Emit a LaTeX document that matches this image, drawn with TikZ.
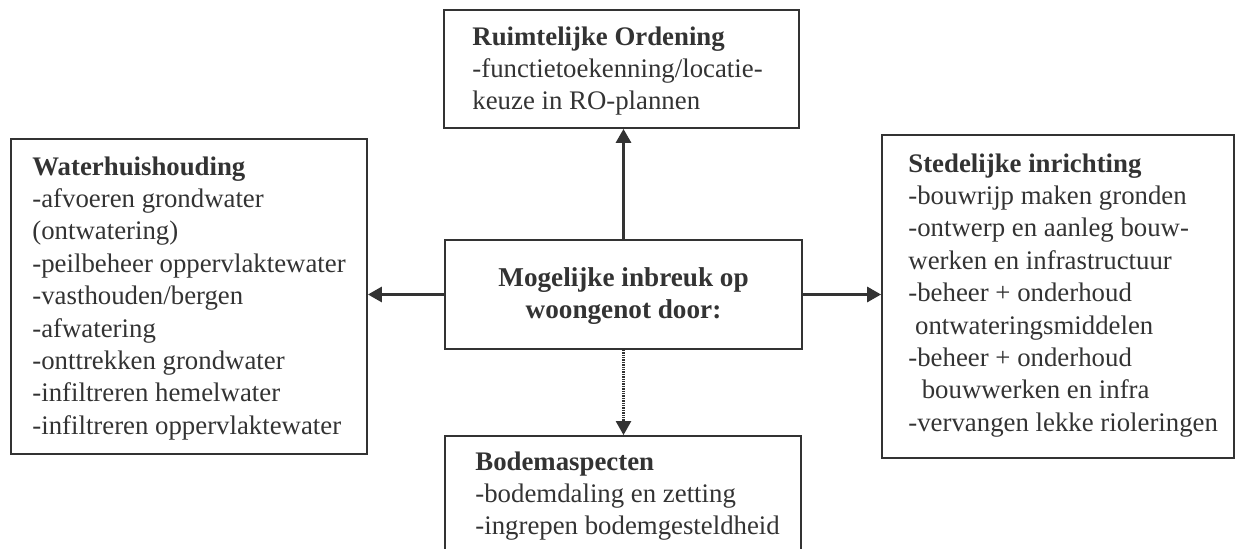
\documentclass[tikz,border=0pt]{standalone}
\usepackage{fontspec}
\setmainfont{Liberation Serif}
\usetikzlibrary{arrows.meta,fit}
\definecolor{ink}{HTML}{333333}
\begin{document}
\begin{tikzpicture}[x=0.5pt,y=-0.5pt,
  box/.style={draw=ink, line width=0.9pt, inner sep=0pt, fill=none},
  txt/.style={anchor=north west, inner sep=0pt, align=left, text=ink,
    font=\fontsize{13.4pt}{16.2pt}\selectfont},
  ctxt/.style={inner sep=0pt, align=center, text=ink,
    font=\fontsize{13.6pt}{16.4pt}\selectfont\bfseries},
  conn/.style={draw=ink, line width=1.5pt, -{Triangle[length=7pt,width=7.5pt]}},
  dconn/.style={draw=ink, line width=1.2pt, dash pattern=on 0.7pt off 0.5pt, -{Triangle[length=7pt,width=7.5pt]}}
]
\useasboundingbox (0,0) rectangle (1235,549);
\clip (0,0) rectangle (1235,549);
% boxes
\node[box, fit={(444,10) (799,128)}] (ro) {};
\node[box, fit={(11,139) (367,454)}] (wh) {};
\node[box, fit={(882,135) (1234,458)}] (si) {};
\node[box, fit={(445,240) (802,349)}] (ce) {};
\node[box, fit={(445,436) (801,570)}] (ba) {};
% texts
\node[txt] (roT) at (472,22) {\strut\textbf{Ruimtelijke Ordening}\\-functietoekenning/locatie-\\keuze in RO-plannen};
\node[txt] (whT) at (32,152) {\strut\textbf{Waterhuishouding}\\-afvoeren grondwater\\(ontwatering)\\-peilbeheer oppervlaktewater\\-vasthouden/bergen\\-afwatering\\-onttrekken grondwater\\-infiltreren hemelwater\\-infiltreren oppervlaktewater};
\node[txt] (siT) at (908,149) {\strut\textbf{Stedelijke inrichting}\\-bouwrijp maken gronden\\-ontwerp en aanleg bouw-\\werken en infrastructuur\\-beheer + onderhoud\\\ ontwateringsmiddelen\\-beheer + onderhoud\\\ \ bouwwerken en infra\\-vervangen lekke rioleringen};
\node[txt] (baT) at (475,447) {\strut\textbf{Bodemaspecten}\\-bodemdaling en zetting\\-ingrepen bodemgesteldheid};
\node[ctxt] (ceT) at (623.5,296) {Mogelijke inbreuk op\\woongenot door:};
% connectors
\draw[conn] (ce.north) -- (ce.north |- ro.south);
\draw[conn] (ce.west) -- (ce.west -| wh.east);
\draw[conn] (ce.east) -- (ce.east -| si.west);
\draw[dconn] (ce.south) -- (ce.south |- ba.north);
\end{tikzpicture}
\end{document}
